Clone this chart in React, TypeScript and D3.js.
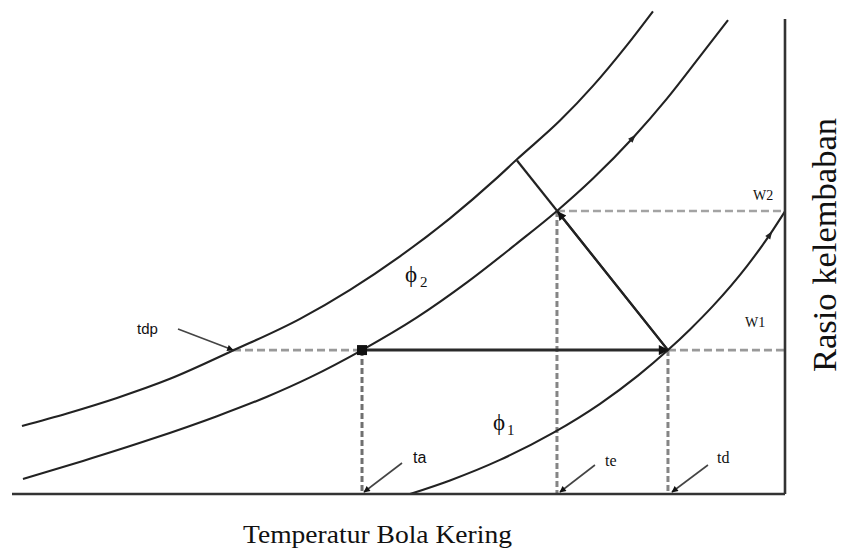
import React from "react";
import * as d3 from "d3";

// ---- data (chart units: x = dry-bulb temperature 0..100, y = humidity ratio 0..100) ----
const outerCurve: [number, number][] = [
  [1.29, 14.32], [7.12, 16.97], [13.58, 20.23], [20.44, 24.25], [28.59, 30.2],
  [37.26, 36.88], [43.73, 42.99], [50.19, 50.04], [56.66, 58.04], [62.74, 66.55],
  [65.33, 70.46], [70.89, 78.61], [75.16, 85.92], [79.56, 94.51], [82.92, 101.62],
];
const middleCurve: [number, number][] = [
  [1.42, 3.16], [9.18, 6.95], [17.85, 11.45], [26.52, 16.38], [32.99, 20.48],
  [38.55, 24.55], [45.28, 30.3], [52.39, 37.18], [58.86, 44.55], [65.33, 52.76],
  [70.5, 59.58], [75.16, 66.4], [80.34, 74.99], [84.73, 83.22], [89.0, 92.11],
  [92.63, 99.77],
];
const lowerCurve: [number, number][] = [
  [51.49, 0], [56.66, 2.86], [63.13, 7.18], [69.99, 12.86], [76.07, 18.99],
  [80.98, 24.91], [84.86, 30.3], [87.71, 34.65], [90.69, 39.6], [95.08, 47.98],
  [98.06, 54.65], [100, 59.5],
];
const tempLabels = ["tdp", "ta", "te", "td"];
const tempValues = [28.59, 45.28, 70.5, 84.86];
const humidityLabels = ["W1", "W2"];
const humidityValues = [30.3, 59.58];
const wetBulbTop: [number, number] = [65.33, 70.2];
const curveLabels = ["2", "1"];
const xTitle = "Temperatur Bola Kering";
const yTitle = "Rasio kelembaban";

const W = 843;
const H = 556;

export default function App() {
  const x = d3.scaleLinear().domain([0, 100]).range([12, 785]);
  const y = d3.scaleLinear().domain([0, 100]).range([494, 19]);
  const line = d3
    .line<[number, number]>()
    .x((d) => x(d[0]))
    .y((d) => y(d[1]))
    .curve(d3.curveMonotoneX);

  const [tdp, ta, te, td] = tempValues;
  const [w1, w2] = humidityValues;
  const y0 = y(0);
  const xR = x(100);

  const dashGray = "#858585";
  const ink = "#222";

  const tick = (pts: [number, number][], i: number, key: string) => {
    const a = pts[i - 1];
    const b = pts[i + 1];
    const p = pts[i];
    const ang = (Math.atan2(y(b[1]) - y(a[1]), x(b[0]) - x(a[0])) * 180) / Math.PI;
    return (
      <path
        key={key}
        d="M4,0 L-4,-3 L-4,3 Z"
        fill={ink}
        transform={`translate(${x(p[0])},${y(p[1])}) rotate(${ang})`}
      />
    );
  };

  const leader = (x2: number, y2: number, dx: number, dy: number, key: string) => (
    <line
      key={key}
      x1={x2 + dx}
      y1={y2 + dy}
      x2={x2}
      y2={y2}
      stroke="#444"
      strokeWidth={1.6}
      markerEnd="url(#small)"
    />
  );

  return (
    <svg
      width={W}
      height={H}
      style={{ position: "absolute", left: 0, top: 0, background: "#fff" }}
    >
      <defs>
        <marker id="big" viewBox="0 0 10 10" refX="9" refY="5" markerWidth="5" markerHeight="3.4" orient="auto">
          <path d="M0,0 L10,5 L0,10 Z" fill="#111" />
        </marker>
        <marker id="mid" viewBox="0 0 10 10" refX="9" refY="5" markerWidth="6" markerHeight="4" orient="auto">
          <path d="M0,0 L10,5 L0,10 Z" fill="#111" />
        </marker>
        <marker id="small" viewBox="0 0 10 10" refX="9" refY="5" markerWidth="5" markerHeight="4" orient="auto">
          <path d="M0,0 L10,5 L0,10 Z" fill="#111" />
        </marker>
      </defs>
      <rect width={W} height={H} fill="#fff" />

      {/* dashed guide lines */}
      <g fill="none" strokeWidth={2.6}>
        <line x1={x(tdp)} y1={y(w1)} x2={x(ta)} y2={y(w1)} stroke="#999" strokeDasharray="8 4" />
        <line x1={x(td)} y1={y(w1)} x2={xR} y2={y(w1)} stroke="#999" strokeDasharray="8 4" />
        <line x1={x(te)} y1={y(w2)} x2={xR} y2={y(w2)} stroke="#a3a3a3" strokeDasharray="8 4" />
        <line x1={x(ta)} y1={y(w1)} x2={x(ta)} y2={y0} stroke="#707070" strokeWidth={3} strokeDasharray="6 3" />
        <line x1={x(te)} y1={y(w2)} x2={x(te)} y2={y0} stroke={dashGray} strokeWidth={3} strokeDasharray="6 3" />
        <line x1={x(td)} y1={y(w1)} x2={x(td)} y2={y0} stroke={dashGray} strokeWidth={3} strokeDasharray="6 3" />
      </g>

      {/* curves */}
      <g fill="none" stroke={ink} strokeWidth={2.1}>
        <path d={line(outerCurve) || ""} />
        <path d={line(middleCurve) || ""} />
        <path d={line(lowerCurve) || ""} />
      </g>
      {tick(middleCurve, 12, "t1")}
      {tick(lowerCurve, 10, "t2")}

      {/* axes */}
      <line x1={x(0)} y1={y0} x2={xR} y2={y0} stroke="#333" strokeWidth={2.6} />
      <line x1={xR} y1={y0} x2={xR} y2={y(100)} stroke="#333" strokeWidth={2.6} />

      {/* process lines */}
      <line x1={x(wetBulbTop[0])} y1={y(wetBulbTop[1])} x2={x(td)} y2={y(w1)} stroke={ink} strokeWidth={2.2} />
      <line x1={x(td)} y1={y(w1)} x2={x(te) + 1} y2={y(w2) + 1} stroke={ink} strokeWidth={2.2} markerEnd="url(#mid)" />
      <line x1={x(ta)} y1={y(w1)} x2={x(td)} y2={y(w1)} stroke="#2a2a2a" strokeWidth={3} markerEnd="url(#big)" />
      <rect x={x(ta) - 5} y={y(w1) - 5} width={10} height={10} fill="#111" />

      {/* leaders */}
      {leader(x(tdp), y(w1), -55, -21, "l0")}
      {leader(x(ta) + 2, y0 - 2, 38, -29, "l1")}
      {leader(x(te) + 3, y0 - 2, 35, -27, "l2")}
      {leader(x(td) + 4, y0 - 2, 36, -27, "l3")}

      {/* labels */}
      <g fill="#111">
        <text x={137} y={334} fontFamily="Liberation Sans, Arial, sans-serif" fontSize={15}>{tempLabels[0]}</text>
        <text x={413} y={463} fontFamily="Liberation Sans, Arial, sans-serif" fontSize={16}>{tempLabels[1]}</text>
        <text x={605} y={466} fontFamily="Liberation Serif, Times New Roman, serif" fontSize={16}>{tempLabels[2]}</text>
        <text x={717} y={463} fontFamily="Liberation Serif, Times New Roman, serif" fontSize={16}>{tempLabels[3]}</text>
        <text x={753} y={200} fontFamily="Liberation Serif, Times New Roman, serif" fontSize={14}>{humidityLabels[1]}</text>
        <text x={745} y={327} fontFamily="Liberation Serif, Times New Roman, serif" fontSize={14}>{humidityLabels[0]}</text>
        <text x={405} y={282} fontFamily="Liberation Serif, DejaVu Serif, serif" fontSize={23} fill="#111">
          ϕ<tspan fontSize={15} dx={3} dy={5}>{curveLabels[0]}</tspan>
        </text>
        <text x={493} y={430} fontFamily="Liberation Serif, DejaVu Serif, serif" fontSize={23} fill="#111">
          ϕ<tspan fontSize={15} dx={2} dy={5}>{curveLabels[1]}</tspan>
        </text>
        <text x={243} y={543} fontFamily="Liberation Serif, Times New Roman, serif" fontSize={26} textLength={269} lengthAdjust="spacingAndGlyphs">
          {xTitle}
        </text>
        <text
          transform="translate(836,372) rotate(-90)"
          fontFamily="Liberation Serif, Times New Roman, serif"
          fontSize={33}
          textLength={254}
          lengthAdjust="spacingAndGlyphs"
        >
          {yTitle}
        </text>
      </g>
    </svg>
  );
}
